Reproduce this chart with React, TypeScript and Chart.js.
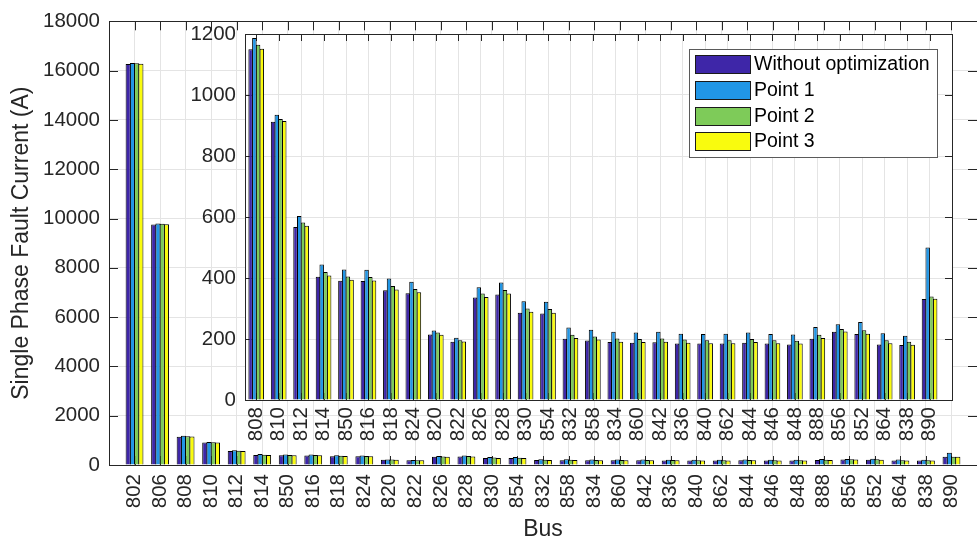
import React, { useEffect, useRef } from 'react';
import { Chart, registerables } from 'chart.js';

Chart.register(...registerables);

// ---------------- data ----------------
const buses = [
  '802', '806', '808', '810', '812', '814', '850', '816', '818', '824', '820',
  '822', '826', '828', '830', '854', '832', '858', '834', '860', '842', '836',
  '840', '862', '844', '846', '848', '888', '856', '852', '864', '838', '890',
];

const seriesNames = ['Without optimization', 'Point 1', 'Point 2', 'Point 3'];

const withoutOptimization = [
  16270, 9760, 1150, 912, 567, 404, 391, 390, 360, 350, 215,
  191, 336, 346, 286, 284, 201, 195, 190, 188, 189, 185,
  185, 185, 188, 185, 182, 201, 224, 216, 182, 180, 331,
];
const point1 = [
  16310, 9795, 1187, 935, 603, 444, 428, 427, 398, 388, 228,
  204, 370, 385, 324, 322, 238, 230, 224, 221, 224, 217,
  216, 217, 221, 216, 215, 239, 248, 256, 219, 211, 500,
];
const point2 = [
  16295, 9785, 1165, 921, 582, 420, 405, 403, 374, 364, 221,
  196, 349, 361, 300, 298, 214, 208, 202, 200, 202, 198,
  196, 196, 200, 196, 194, 214, 233, 229, 196, 191, 339,
];
const point3 = [
  16280, 9770, 1152, 915, 571, 408, 394, 392, 362, 353, 214,
  192, 338, 349, 289, 286, 203, 198, 191, 190, 191, 188,
  186, 186, 190, 186, 185, 203, 225, 217, 186, 181, 332,
];

// inset zooms in from bus 808 onward
const insetStart = 2;
const insetBuses = buses.slice(insetStart);

// ---------------- styles ----------------
const FONT = "'Liberation Sans', Arial, Helvetica, sans-serif";
const AXIS = '#262626';
const GRID = '#e4e4e4';
const COLORS = ['#3e26a8', '#2196e6', '#7ecb59', '#f9fb0e'];

function makeDatasets(offset: number) {
  return [withoutOptimization, point1, point2, point3].map((vals, k) => ({
    label: seriesNames[k],
    data: vals.slice(offset).map((v, i) => ({ x: i, y: v })),
    backgroundColor: COLORS[k],
    borderColor: '#000000',
    borderWidth: 1,
    categoryPercentage: 0.665,
    barPercentage: 1.2,
  }));
}

// box with inward ticks on all four sides (MATLAB style)
const boxPlugin = {
  id: 'box',
  beforeDatasetsDraw(chart: any, _args: any, opts: any) {
    const { ctx, chartArea: a, scales } = chart;
    const x = scales.x;
    const y = scales.y;
    const L = opts.len || 8;
    ctx.save();
    ctx.strokeStyle = AXIS;
    ctx.lineWidth = 1;
    ctx.beginPath();
    x.ticks.forEach((t: any) => {
      const px = Math.round(x.getPixelForValue(t.value)) + 0.5;
      ctx.moveTo(px, a.top);
      ctx.lineTo(px, a.top + L);
      ctx.moveTo(px, a.bottom);
      ctx.lineTo(px, a.bottom - L);
    });
    y.ticks.forEach((t: any) => {
      const py = Math.round(y.getPixelForValue(t.value)) + 0.5;
      ctx.moveTo(a.left, py);
      ctx.lineTo(a.left + L, py);
      ctx.moveTo(a.right, py);
      ctx.lineTo(a.right - L, py);
    });
    ctx.stroke();
    ctx.restore();
  },
  afterDatasetsDraw(chart: any) {
    const { ctx, chartArea: a } = chart;
    ctx.save();
    ctx.strokeStyle = AXIS;
    ctx.lineWidth = 1;
    const l = Math.round(a.left) + 0.5;
    const t = Math.round(a.top) + 0.5;
    const r = Math.round(a.right) + 0.5;
    const b = Math.round(a.bottom) + 0.5;
    ctx.strokeRect(l, t, r - l, b - t);
    ctx.restore();
  },
};

const whiteAreaPlugin = {
  id: 'whiteArea',
  beforeDraw(chart: any) {
    const { ctx, chartArea: a } = chart;
    ctx.save();
    ctx.fillStyle = '#ffffff';
    ctx.fillRect(a.left, a.top, a.right - a.left, a.bottom - a.top);
    ctx.restore();
  },
};

const legendPlugin = {
  id: 'insetLegend',
  afterDraw(chart: any) {
    const ctx = chart.ctx;
    const bx = 689, by = 49, bw = 248, bh = 108;
    ctx.save();
    ctx.fillStyle = '#ffffff';
    ctx.fillRect(bx, by, bw, bh);
    ctx.strokeStyle = '#5a5a5a';
    ctx.lineWidth = 1;
    ctx.strokeRect(bx + 0.5, by + 0.5, bw, bh);
    ctx.font = `19.5px ${FONT}`;
    ctx.textBaseline = 'middle';
    ctx.textAlign = 'left';
    chart.data.datasets.forEach((ds: any, i: number) => {
      const cy = Math.round(64 + i * 25.8);
      ctx.fillStyle = ds.backgroundColor;
      ctx.fillRect(695, cy - 9, 55, 18);
      ctx.strokeStyle = '#1a1a1a';
      ctx.strokeRect(695.5, cy - 8.5, 55, 18);
      ctx.fillStyle = '#000000';
      ctx.fillText(ds.label, 754, cy + 1);
    });
    ctx.restore();
  },
};

function tickFont(size: number) {
  return { family: FONT, size };
}

const plainNumber = (v: any) => String(v);

export default function App() {
  const mainRef = useRef<HTMLCanvasElement>(null);
  const insetRef = useRef<HTMLCanvasElement>(null);

  useEffect(() => {
    const main = new Chart(mainRef.current as HTMLCanvasElement, {
      type: 'bar',
      data: { datasets: makeDatasets(0) as any },
      plugins: [boxPlugin],
      options: {
        responsive: false,
        animation: false,
        devicePixelRatio: 1,
        layout: { padding: { left: 0, top: 15, right: -1, bottom: 0 } },
        plugins: {
          legend: { display: false },
          tooltip: { enabled: false },
          box: { len: 9 },
        } as any,
        scales: {
          x: {
            type: 'linear',
            offset: false,
            min: -1,
            max: buses.length,
            afterBuildTicks: (s: any) => {
              s.ticks = buses.map((_, i) => ({ value: i }));
            },
            afterFit: (s: any) => {
              s.height = 85;
              s.paddingLeft = 0;
              s.paddingRight = 0;
            },
            grid: { color: GRID, drawTicks: false, offset: false },
            border: { display: false },
            ticks: {
              autoSkip: false,
              minRotation: 90,
              maxRotation: 90,
              padding: 9,
              color: AXIS,
              font: tickFont(20.5),
              callback: (v: any) => buses[v] ?? '',
            },
            title: {
              display: true,
              text: 'Bus',
              color: AXIS,
              font: { family: FONT, size: 23, lineHeight: 1.2 },
              padding: { top: 0, bottom: 7 },
            },
          } as any,
          y: {
            min: 0,
            max: 18000,
            afterFit: (s: any) => {
              s.width = 109;
            },
            grid: { color: GRID, drawTicks: false },
            border: { display: false },
            ticks: {
              stepSize: 2000,
              padding: 9,
              color: AXIS,
              font: tickFont(20.5),
              callback: plainNumber,
            },
            title: {
              display: true,
              text: 'Single Phase Fault Current (A)',
              color: AXIS,
              font: { family: FONT, size: 23, lineHeight: 1.2 },
              padding: { top: 8, bottom: 0 },
            },
          } as any,
        },
      },
    });

    const inset = new Chart(insetRef.current as HTMLCanvasElement, {
      type: 'bar',
      data: { datasets: makeDatasets(insetStart) as any },
      plugins: [whiteAreaPlugin, boxPlugin, legendPlugin],
      options: {
        responsive: false,
        animation: false,
        devicePixelRatio: 1,
        layout: { padding: { left: 0, top: 34, right: 25, bottom: 0 } },
        plugins: {
          legend: { display: false },
          tooltip: { enabled: false },
          box: { len: 7 },
        } as any,
        scales: {
          x: {
            type: 'linear',
            offset: false,
            min: -0.5,
            max: insetBuses.length,
            afterBuildTicks: (s: any) => {
              s.ticks = insetBuses.map((_, i) => ({ value: i }));
            },
            afterFit: (s: any) => {
              s.height = 150;
              s.paddingLeft = 0;
              s.paddingRight = 0;
            },
            grid: { color: GRID, drawTicks: false, offset: false },
            border: { display: false },
            ticks: {
              autoSkip: false,
              minRotation: 90,
              maxRotation: 90,
              padding: 7,
              color: AXIS,
              font: tickFont(20.5),
              callback: (v: any) => insetBuses[v] ?? '',
            },
          } as any,
          y: {
            min: 0,
            max: 1200,
            afterFit: (s: any) => {
              s.width = 245;
            },
            grid: { color: GRID, drawTicks: false },
            border: { display: false },
            ticks: {
              stepSize: 200,
              padding: 9,
              color: AXIS,
              font: tickFont(20.5),
              callback: plainNumber,
            },
          } as any,
        },
      },
    });

    return () => {
      main.destroy();
      inset.destroy();
    };
  }, []);

  const canvasStyle: React.CSSProperties = {
    position: 'absolute',
    left: 0,
    top: 0,
    width: 977,
    height: 550,
  };

  return (
    <div
      style={{
        position: 'absolute',
        left: 0,
        top: 0,
        width: 977,
        height: 550,
        overflow: 'hidden',
        background: '#ffffff',
      }}
    >
      <canvas ref={mainRef} width={977} height={550} style={canvasStyle} />
      <canvas ref={insetRef} width={977} height={550} style={canvasStyle} />
    </div>
  );
}
